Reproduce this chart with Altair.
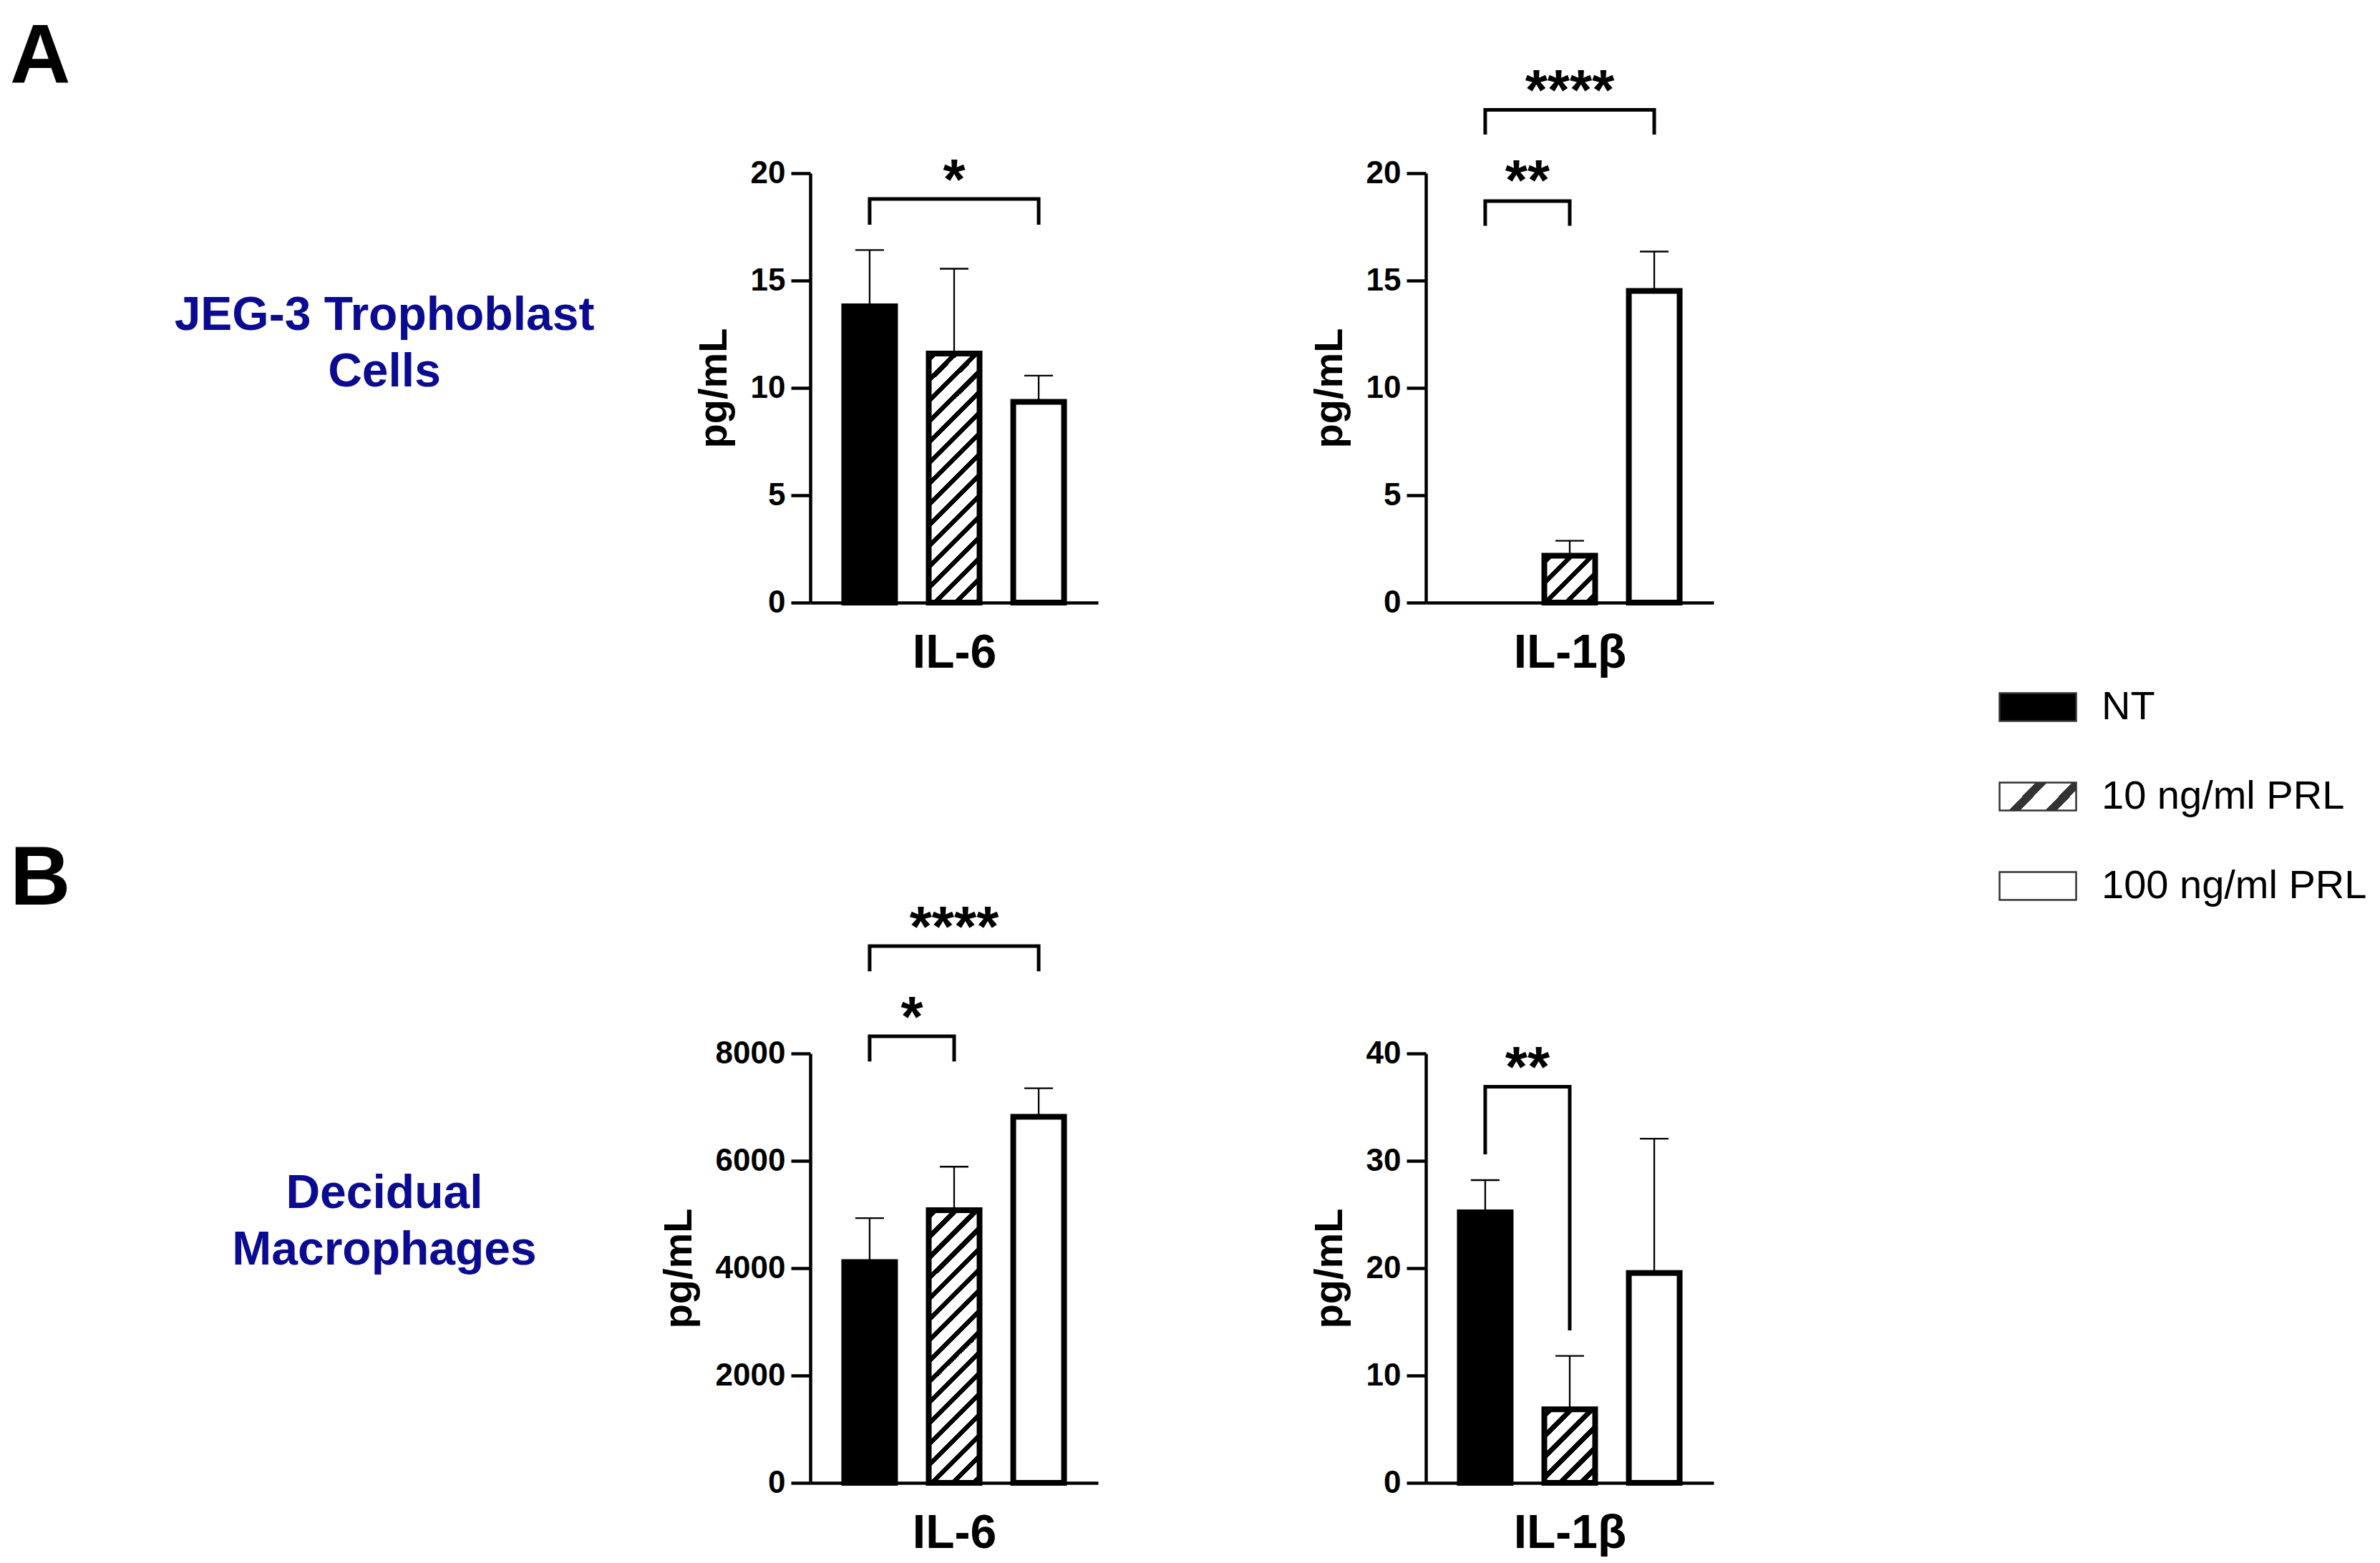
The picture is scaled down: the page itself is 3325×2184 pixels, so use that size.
import altair as alt
import pandas as pd

# ---------------- data ----------------
groups = ["NT", "10 ng/ml PRL", "100 ng/ml PRL"]
positions = [1, 2, 3]

panel_letters = ["A", "B"]
row_titles = ["JEG-3 Trophoblast\nCells", "Decidual\nMacrophages"]
cytokines = ["IL-6", "IL-1\u03b2"]
y_title = "pg/mL"

a_il6_mean = [13.8, 11.6, 9.35]
a_il6_top = [16.42, 15.55, 10.57]
a_il1b_mean = [0.0, 2.18, 14.52]
a_il1b_top = [None, 2.88, 16.35]
b_il6_mean = [4115, 5080, 6820]
b_il6_top = [4933, 5890, 7353]
b_il1b_mean = [25.2, 6.85, 19.55]
b_il1b_top = [28.2, 11.83, 32.06]

ticks_a = [0, 5, 10, 15, 20]
ticks_b_il6 = [0, 2000, 4000, 6000, 8000]
ticks_b_il1b = [0, 10, 20, 30, 40]

# brackets: (left group, right group, bar level, left leg end, right leg end, stars, star level)
a_il6_brackets = [(1, 3, 18.8, 17.6, 17.6, "*", 20.05)]
a_il1b_brackets = [(1, 2, 18.7, 17.55, 17.55, "**", 20.0),
                   (1, 3, 22.95, 21.8, 21.8, "****", 24.2)]
b_il6_brackets = [(1, 2, 8320, 7850, 7850, "*", 8820),
                  (1, 3, 10000, 9530, 9530, "****", 10500)]
b_il1b_brackets = [(1, 2, 36.9, 30.6, 14.2, "**", 39.4)]

# ---------------- styling ----------------
FONT = "Liberation Sans"
NAVY = "#0b0b91"
PLOT_W, PLOT_H = 402, 600
X_DOMAIN = [0.34, 3.66]
BAR_W = 71
BAR_STROKE = 8
ERR_W = 2.3
CAP_W = 40
BRK_W = 5
STAR_FS = 80
STAR_DY = 37
HATCH_PERIOD = 29.0
HATCH_BLACK = 9.5
COL_SPACING = 458
ROW_SPACING = 630
LETTER_X = -1118


def gradient_from_intervals(w, h, intervals, color):
    """Diagonal '/' stripes inside a w x h box, given stripe intervals along x+y (pixels)."""
    L = w + h
    a = L / (w * w + h * h)
    stops = [{"offset": 0.0, "color": "white"}]
    for s, e in intervals:
        s, e = max(s, 0.0), min(e, L)
        if e <= s:
            continue
        stops += [{"offset": s / L, "color": "white"}, {"offset": s / L, "color": color},
                  {"offset": e / L, "color": color}, {"offset": e / L, "color": "white"}]
    stops.append({"offset": 1.0, "color": "white"})
    return {"gradient": "linear", "x1": 0, "y1": 0, "x2": a * w, "y2": a * h, "stops": stops}


def bar_hatch(w, h):
    intervals = []
    c = 4.0
    while c < w + h:
        intervals.append((c, c + HATCH_BLACK))
        c += HATCH_PERIOD
    return gradient_from_intervals(w, h, intervals, "black")


def row_labels(letter, text, letter_y, text_y):
    lt = alt.Chart(pd.DataFrame({"t": [letter]})).mark_text(
        align="left", baseline="top", font=FONT, fontSize=117, fontWeight="bold",
        color="black").encode(text="t:N", x=alt.value(LETTER_X), y=alt.value(letter_y))
    rt = alt.Chart(pd.DataFrame({"t": [text]})).mark_text(
        align="center", baseline="alphabetic", lineBreak="\n", lineHeight=79,
        font=FONT, fontSize=66, fontWeight="bold", color=NAVY).encode(
        text="t:N", x=alt.value(-595), y=alt.value(text_y))
    return [lt, rt]


def panel(title, means, tops, ymax, ticks, brackets, extra=()):
    df = pd.DataFrame({"group": groups, "pos": positions, "mean": means, "top": tops})
    xsc = alt.Scale(domain=X_DOMAIN, nice=False, zero=False)
    ysc = alt.Scale(domain=[0, ymax], nice=False, zero=False)
    xax = alt.Axis(title=title, labels=False, ticks=False, grid=False)
    yax = alt.Axis(title=y_title, values=ticks, format="d", grid=False)

    def X(f):
        return alt.X(f, type="quantitative", scale=xsc, axis=xax)

    def Y(f):
        return alt.Y(f, type="quantitative", scale=ysc, axis=yax)

    base = alt.Chart(df)
    err = base.transform_filter("isValid(datum.top)").mark_rule(
        color="black", strokeWidth=ERR_W).encode(x=X("pos"), y=Y("mean"), y2=alt.Y2("top:Q"))
    cap = base.transform_filter("isValid(datum.top)").mark_point(
        shape="M-1,0L1,0", size=CAP_W ** 2, filled=False, stroke="black",
        strokeWidth=ERR_W, opacity=1).encode(x=X("pos"), y=Y("top"))

    hatched_h = means[1] / ymax * PLOT_H
    fills = ["black", bar_hatch(BAR_W, hatched_h), "white"]
    bars = []
    for g, f in zip(groups, fills):
        bars.append(base.transform_filter(alt.datum.group == g).mark_bar(
            width=BAR_W, fill=f, stroke="black", strokeJoin="miter", opacity=1).encode(
            x=X("pos"), y=Y("mean"),
            strokeWidth=alt.condition("datum.mean > 0", alt.value(BAR_STROKE), alt.value(0))))

    pts = []
    stars = []
    for i, (g1, g2, top, l1, l2, lab, sy) in enumerate(brackets):
        pts += [{"bid": i, "seq": 0, "pos": g1, "level": l1},
                {"bid": i, "seq": 1, "pos": g1, "level": top},
                {"bid": i, "seq": 2, "pos": g2, "level": top},
                {"bid": i, "seq": 3, "pos": g2, "level": l2}]
        stars.append({"mid": (g1 + g2) / 2, "sy": sy, "label": lab})
    brk = alt.Chart(pd.DataFrame(pts)).mark_line(
        color="black", strokeWidth=BRK_W, strokeJoin="miter", strokeCap="butt").encode(
        x=X("pos"), y=Y("level"), detail="bid:N", order="seq:Q")
    txt = alt.Chart(pd.DataFrame(stars)).mark_text(
        font=FONT, fontSize=STAR_FS, fontWeight="bold", baseline="alphabetic",
        dy=STAR_DY, color="black").encode(x=X("mid"), y=Y("sy"), text="label:N")

    return alt.layer(err, cap, *bars, brk, txt, *extra).properties(width=PLOT_W, height=PLOT_H)


pa1 = panel(cytokines[0], a_il6_mean, a_il6_top, 20, ticks_a, a_il6_brackets,
            row_labels(panel_letters[0], row_titles[0], -218, 219))
pa2 = panel(cytokines[1], a_il1b_mean, a_il1b_top, 20, ticks_a, a_il1b_brackets)
pb1 = panel(cytokines[0], b_il6_mean, b_il6_top, 8000, ticks_b_il6, b_il6_brackets,
            row_labels(panel_letters[1], row_titles[1], -300, 216))
pb2 = panel(cytokines[1], b_il1b_mean, b_il1b_top, 40, ticks_b_il1b, b_il1b_brackets)

# ---------------- legend ----------------
leg_df = pd.DataFrame({"label": groups})
leg_y = alt.Y("label:N", scale=alt.Scale(type="point", domain=groups, range=[746, 996], padding=0),
              axis=None)
rect_path = "M-1,-0.3645L1,-0.3645L1,0.3645L-1,0.3645Z"
leg_hatch = gradient_from_intervals(107, 39, [(51, 67), (102, 118)], "#333333")
leg_fills = ["black", leg_hatch, "white"]
leg_layers = []
for g, f in zip(groups, leg_fills):
    leg_layers.append(alt.Chart(leg_df).transform_filter(alt.datum.label == g).mark_point(
        shape=rect_path, size=107 ** 2, filled=True, fill=f, stroke="#333333",
        strokeWidth=2.5, opacity=1).encode(x=alt.value(-5), y=leg_y))
leg_text = alt.Chart(leg_df).mark_text(
    align="left", baseline="middle", font=FONT, fontSize=56, color="black").encode(
    x=alt.value(84), y=leg_y, text="label:N")
legend = alt.layer(*leg_layers, leg_text).properties(width=100, height=PLOT_H)

chart = alt.concat(pa1, pa2, legend, pb1, pb2, columns=3,
                   spacing={"row": ROW_SPACING, "column": COL_SPACING},
                   bounds="flush", align="each").properties(
    padding={"top": 14, "left": 6, "right": 0, "bottom": 0}
).configure(
    font=FONT
).configure_view(strokeWidth=0).configure_axis(
    grid=False, domainColor="black", tickColor="black", labelColor="black",
    titleColor="black", labelFont=FONT, titleFont=FONT
).configure_axisY(
    domainWidth=4.5, tickWidth=4.5, tickSize=27, labelFontSize=44, labelFontWeight="bold",
    labelPadding=8, titleFontSize=56, titleFontWeight="bold", titlePadding=22,
    labelOverlap=False, labelFlush=False
).configure_axisX(
    domainWidth=4.5, titleFontSize=66, titleFontWeight="bold", titlePadding=38
)

chart.save("out.html", embed_options={"renderer": "svg", "actions": False})
